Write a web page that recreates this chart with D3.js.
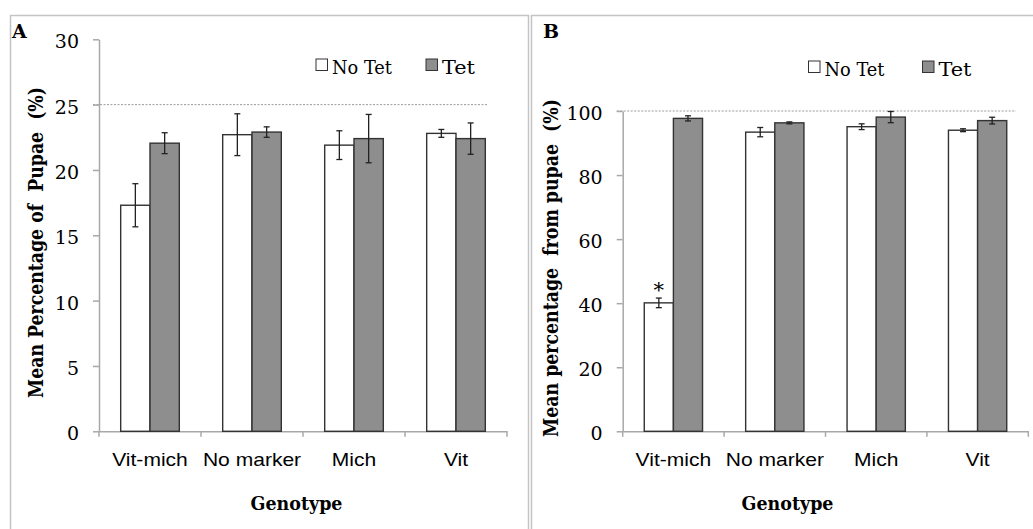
<!DOCTYPE html>
<html>
<head>
<meta charset="utf-8">
<script src="https://cdn.jsdelivr.net/npm/d3@7"></script>
<style>
  html, body { margin: 0; padding: 0; background: #fff; }
  svg { display: block; }
  text { white-space: pre; }
</style>
</head>
<body>
<svg id="chart" width="1033" height="529"></svg>
<script>
// Genotypes and treatments
const genotypes = ["Vit-mich", "No marker", "Mich", "Vit"];
const treatments = ["No Tet", "Tet"];

// Panel A: mean percentage of pupae (%)
const pupaeNoTet    = [17.3, 22.7, 21.9, 22.8];
const pupaeNoTetErr = [1.65, 1.6, 1.1, 0.3];
const pupaeTet      = [22.05, 22.9, 22.4, 22.4];
const pupaeTetErr   = [0.8, 0.4, 1.85, 1.2];
const pupaeTicks    = [0, 5, 10, 15, 20, 25, 30];
const pupaeRefLine  = 25;

// Panel B: mean percentage emerging from pupae (%)
const emergeNoTet    = [40.1, 93.4, 95.1, 94.0];
const emergeNoTetErr = [1.5, 1.45, 0.9, 0.45];
const emergeTet      = [97.7, 96.3, 98.1, 97.0];
const emergeTetErr   = [0.8, 0.3, 1.75, 1.05];
const emergeTicks    = [0, 20, 40, 60, 80, 100];
const emergeRefLine  = 100;
const emergeStars    = ["*", "", "", ""];   // significance marks over No Tet bars

const fills = { "No Tet": "#ffffff", "Tet": "#8e8e8e" };
const SERIF = "'DejaVu Serif', 'Liberation Serif', serif";
const SANS  = "'Liberation Sans', Arial, sans-serif";

const svg = d3.select("#chart");

function drawPanel(cfg) {
  const g = svg.append("g");

  // panel frame
  g.append("rect")
    .attr("x", cfg.frame[0]).attr("y", cfg.frame[1])
    .attr("width", cfg.frame[2]).attr("height", cfg.frame[3])
    .attr("fill", "none").attr("stroke", "#c4c4c4").attr("stroke-width", 1.5);

  // panel letter
  g.append("text").text(cfg.letter)
    .attr("x", cfg.letterPos[0]).attr("y", cfg.letterPos[1])
    .attr("font-family", SERIF).attr("font-weight", "bold")
    .attr("font-size", 19).attr("fill", "#000");

  const x = d3.scaleBand().domain(genotypes).range([cfg.x0, cfg.x1]).padding(0);
  const xs = d3.scaleBand().domain(treatments).range([0, x.bandwidth()])
    .paddingInner(0).paddingOuter(0.74);
  const y = d3.scaleLinear().domain(cfg.domain).range([cfg.yBottom, cfg.yTop]);

  // dotted reference line
  g.append("line")
    .attr("x1", cfg.x0 - 6).attr("x2", cfg.refEnd)
    .attr("y1", y(cfg.ref)).attr("y2", y(cfg.ref))
    .attr("stroke", "#9a9a9a").attr("stroke-width", 1)
    .attr("stroke-dasharray", "2,1.5");

  // y axis
  const yAxis = g.append("g")
    .attr("transform", `translate(${cfg.x0},0)`)
    .call(d3.axisLeft(y).tickValues(cfg.ticks).tickSize(6).tickSizeOuter(0).tickPadding(14));
  yAxis.select(".domain").attr("stroke", "#a8a8a8").attr("stroke-width", 1.5);
  yAxis.selectAll(".tick line").attr("stroke", "#a8a8a8").attr("stroke-width", 1.5);
  yAxis.selectAll(".tick text")
    .attr("font-family", SERIF).attr("font-size", 19).attr("fill", "#000")
    .attr("dy", "0.45em");

  // x axis: category boundary ticks + labels centred in each band
  const xAxis = g.append("g")
    .attr("transform", `translate(0,${cfg.yBottom})`)
    .call(d3.axisBottom(x).tickSize(0).tickPadding(22));
  xAxis.select(".domain").attr("stroke", "#a8a8a8").attr("stroke-width", 1.5);
  xAxis.selectAll(".tick text")
    .attr("font-family", SANS).attr("font-size", 18).attr("fill", "#000")
    .attr("transform", "scale(1.17,1)");
  const bounds = genotypes.map(d => x(d)).concat([x.range()[1]]);
  xAxis.selectAll(".bound").data(bounds).join("line")
    .attr("class", "bound")
    .attr("x1", d => d).attr("x2", d => d)
    .attr("y1", 0).attr("y2", 5.5)
    .attr("stroke", "#a8a8a8").attr("stroke-width", 1.5);

  // bars
  const rows = [];
  genotypes.forEach((gt, i) => {
    rows.push({ gt, tr: "No Tet", v: cfg.noTet[i], e: cfg.noTetErr[i], star: cfg.stars ? cfg.stars[i] : "" });
    rows.push({ gt, tr: "Tet", v: cfg.tet[i], e: cfg.tetErr[i], star: "" });
  });

  g.selectAll(".bar").data(rows).join("rect")
    .attr("class", "bar")
    .attr("x", d => x(d.gt) + xs(d.tr))
    .attr("width", xs.bandwidth())
    .attr("y", d => y(d.v))
    .attr("height", d => y(0) - y(d.v))
    .attr("fill", d => fills[d.tr])
    .attr("stroke", "#333").attr("stroke-width", 1.4);

  // error bars
  const cx = d => x(d.gt) + xs(d.tr) + xs.bandwidth() / 2;
  const eb = g.selectAll(".err").data(rows).join("g").attr("class", "err")
    .attr("stroke", "#222").attr("stroke-width", 1.3);
  eb.append("line")
    .attr("x1", cx).attr("x2", cx)
    .attr("y1", d => y(d.v - d.e)).attr("y2", d => y(d.v + d.e));
  eb.append("line")
    .attr("x1", d => cx(d) - 3).attr("x2", d => cx(d) + 3)
    .attr("y1", d => y(d.v + d.e)).attr("y2", d => y(d.v + d.e));
  eb.append("line")
    .attr("x1", d => cx(d) - 3).attr("x2", d => cx(d) + 3)
    .attr("y1", d => y(d.v - d.e)).attr("y2", d => y(d.v - d.e));

  // significance marks
  g.selectAll(".star").data(rows.filter(d => d.star)).join("text")
    .attr("class", "star")
    .attr("x", cx)
    .attr("y", d => y(d.v + d.e) - 1)
    .attr("text-anchor", "middle")
    .attr("font-family", SERIF).attr("font-size", 21).attr("fill", "#000")
    .text(d => d.star);

  // legend
  treatments.forEach((t, i) => {
    const lx = cfg.legendX[i];
    g.append("rect")
      .attr("x", lx).attr("y", cfg.legendY - 15)
      .attr("width", 11.5).attr("height", 11.5)
      .attr("fill", fills[t]).attr("stroke", "#333").attr("stroke-width", 1);
    g.append("text").text(t)
      .attr("x", lx + 16).attr("y", cfg.legendY)
      .attr("font-family", SERIF).attr("font-size", 19).attr("fill", "#000")
      .attr("textLength", t === "Tet" ? 33 : 60).attr("lengthAdjust", "spacingAndGlyphs");
  });

  // axis titles
  g.append("text").text("Genotype")
    .attr("x", cfg.xTitleX).attr("y", 510)
    .attr("text-anchor", "middle")
    .attr("font-family", SERIF).attr("font-weight", "bold")
    .attr("font-size", 19).attr("fill", "#000")
    .attr("textLength", 92).attr("lengthAdjust", "spacingAndGlyphs");

  g.append("text").text(cfg.yTitle)
    .attr("transform", `translate(${cfg.yTitlePos[0]},${cfg.yTitlePos[1]}) rotate(-90)`)
    .attr("text-anchor", "middle")
    .attr("font-family", SERIF).attr("font-weight", "bold")
    .attr("font-size", 21).attr("fill", "#000")
    .attr("textLength", cfg.yTitleLen).attr("lengthAdjust", "spacingAndGlyphs");
}

drawPanel({
  letter: "A", letterPos: [12, 38],
  frame: [10.5, 15.5, 518, 540],
  x0: 99, x1: 507, yBottom: 431.3, yTop: 39.3,
  domain: [0, 30], ticks: pupaeTicks, ref: pupaeRefLine, refEnd: 487,
  noTet: pupaeNoTet, noTetErr: pupaeNoTetErr, tet: pupaeTet, tetErr: pupaeTetErr,
  legendX: [316, 426], legendY: 74,
  xTitleX: 296.5,
  yTitle: "Mean Percentage of  Pupae  (%)", yTitlePos: [43, 242.5], yTitleLen: 311
});

drawPanel({
  letter: "B", letterPos: [543, 38],
  frame: [531.5, 15.5, 520, 540],
  x0: 622.7, x1: 1028.3, yBottom: 431.3, yTop: 111,
  domain: [0, 100], ticks: emergeTicks, ref: emergeRefLine, refEnd: 1016,
  noTet: emergeNoTet, noTetErr: emergeNoTetErr, tet: emergeTet, tetErr: emergeTetErr,
  stars: emergeStars,
  legendX: [808.5, 922.5], legendY: 76,
  xTitleX: 787.5,
  yTitle: "Mean percentage  from pupae  (%)", yTitlePos: [558, 268], yTitleLen: 338
});
</script>
</body>
</html>
